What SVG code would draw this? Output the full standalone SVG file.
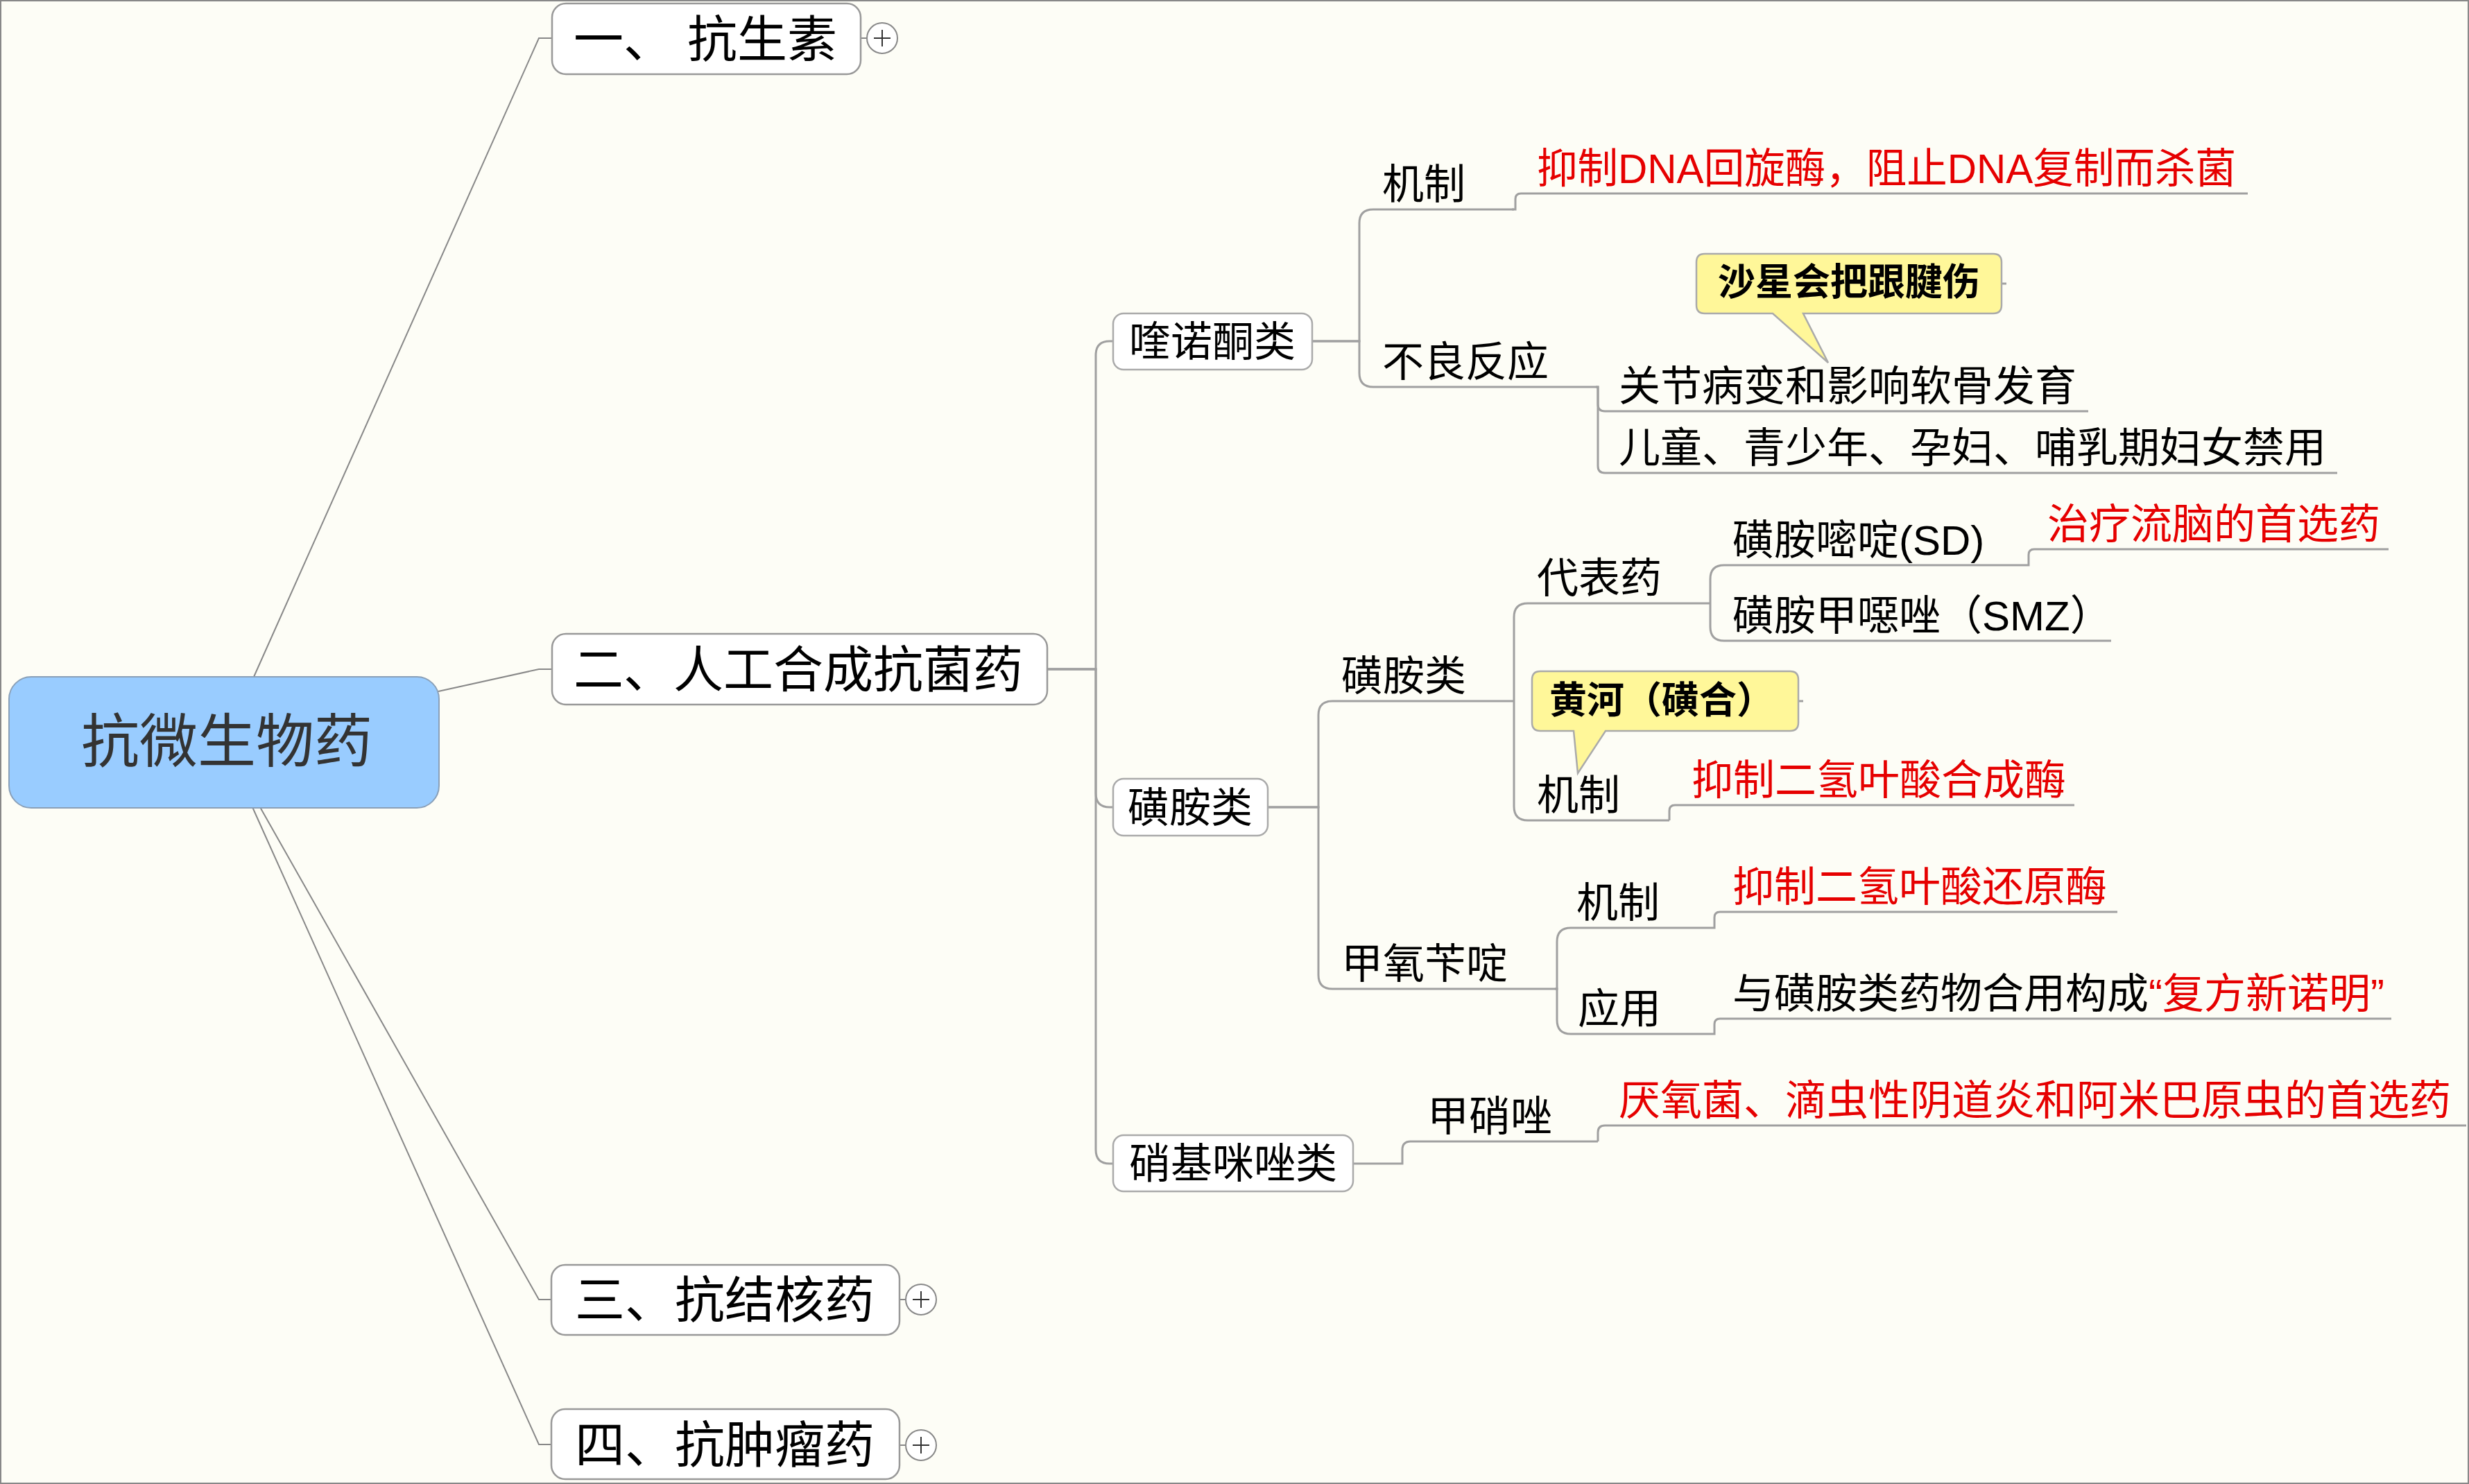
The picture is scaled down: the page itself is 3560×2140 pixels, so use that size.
<svg xmlns="http://www.w3.org/2000/svg" width="3560" height="2140" viewBox="0 0 3560 2140">
<style>
text{font-family:"Liberation Sans","Noto Sans CJK SC",sans-serif;fill:#000}
.t72{font-size:72px}
.t60{font-size:60px}
.red{fill:#E60000}
.bold{font-size:54px;font-weight:bold}
.l1{fill:#FFFFFF;stroke:#999;stroke-width:2.5}
.l2{fill:#FFFFFF;stroke:#aaa;stroke-width:2.5}
.call{fill:#FFF799;stroke:#aaa;stroke-width:2.5}
.conn path{fill:none;stroke:#a0a0a0;stroke-width:3}
.conn path.root{stroke:#888;stroke-width:2}
.plus circle{fill:#FFFFFF;stroke:#888;stroke-width:2}
.plus path{fill:none;stroke:#333;stroke-width:2}
</style>
<rect x="0" y="0" width="3560" height="2140" fill="#FDFDF6"/>
<rect x="1" y="1" width="3558" height="2138" fill="none" stroke="#888" stroke-width="2"/>

<g id="connectors" class="conn">
  <path class="root" d="M366 976 L777 55 H796"/>
  <path class="root" d="M632 997 L777 965 H796"/>
  <path class="root" d="M375 1164 L777 1874 H795"/>
  <path class="root" d="M364 1164 L777 2083 H795"/>
  <path class="root" d="M1241 55 H1250"/>
  <path class="root" d="M1297 1874 H1306"/>
  <path class="root" d="M1297 2084 H1306"/>
  <!-- level 2 -->
  <path d="M1510 965 H1580 V512 Q1580 492 1600 492 H1605"/>
  <path d="M1510 965 H1580 V1144 Q1580 1164 1600 1164 H1605"/>
  <path d="M1510 965 H1580 V1658 Q1580 1678 1600 1678 H1605"/>
  <!-- 喹诺酮类 -->
  <path d="M1892 492 H1960 V322 Q1960 302 1980 302 H2183"/>
  <path d="M1892 492 H1960 V538 Q1960 558 1980 558 H2301"/>
  <path d="M2180 302 H2185 V287 Q2185 279 2193 279 H3241"/>
  <path d="M2301 558 H2304 V583 Q2304 593 2314 593 H3011"/>
  <path d="M2301 558 H2304 V672 Q2304 682 2314 682 H3370"/>
  <!-- 磺胺类 -->
  <path d="M1828 1164 H1901 V1031 Q1901 1011 1921 1011 H2183"/>
  <path d="M1828 1164 H1901 V1406 Q1901 1426 1921 1426 H2242"/>
  <path d="M2183 1011 V890 Q2183 870 2203 870 H2466"/>
  <path d="M2183 1011 V1163 Q2183 1183 2203 1183 H2407"/>
  <path d="M2466 870 V835 Q2466 815 2486 815 H2919"/>
  <path d="M2466 870 V904 Q2466 924 2486 924 H3044"/>
  <path d="M2919 815 H2925 V800 Q2925 792 2933 792 H3444"/>
  <path d="M2407 1183 V1169 Q2407 1161 2415 1161 H2991"/>
  <path d="M2242 1426 H2245 V1358 Q2245 1338 2265 1338 H2468"/>
  <path d="M2242 1426 H2245 V1471 Q2245 1491 2265 1491 H2468"/>
  <path d="M2468 1338 H2472 V1323 Q2472 1315 2480 1315 H3053"/>
  <path d="M2468 1491 H2472 V1477 Q2472 1469 2480 1469 H3448"/>
  <!-- 硝基咪唑类 -->
  <path d="M1951 1678 H2022 V1658 Q2022 1646 2034 1646 H2304"/>
  <path d="M2304 1646 V1633 Q2304 1623 2314 1623 H3556"/>
  <!-- callout stubs -->
  <path d="M2886 409 H2893"/>
  <path d="M2593 1011 H2600"/>
</g>

<g id="root">
  <rect x="13" y="976" width="620" height="189" rx="32" fill="#99CCFF" stroke="#8aa0b8" stroke-width="2"/>
  <text x="327" y="1099" text-anchor="middle" style="font-size:84px;fill:#333">抗微生物药</text>
</g>

<g id="n1">
  <rect class="l1" x="796" y="5" width="445" height="102" rx="20"/>
  <text class="t72" x="827" y="82">一、 抗生素</text>
</g>
<g id="n1-plus" class="plus">
  <circle cx="1272" cy="55" r="22"/><path d="M1260 55 H1284 M1272 43 V67"/>
</g>
<g id="n2">
  <rect class="l1" x="796" y="914" width="714" height="102" rx="20"/>
  <text class="t72" x="827" y="991">二、人工合成抗菌药</text>
</g>
<g id="n3">
  <rect class="l1" x="795" y="1824" width="502" height="101" rx="20"/>
  <text class="t72" x="829" y="1900">三、抗结核药</text>
</g>
<g id="n3-plus" class="plus">
  <circle cx="1328" cy="1874" r="22"/><path d="M1316 1874 H1340 M1328 1862 V1886"/>
</g>
<g id="n4">
  <rect class="l1" x="795" y="2032" width="502" height="101" rx="20"/>
  <text class="t72" x="829" y="2109">四、抗肿瘤药</text>
</g>
<g id="n4-plus" class="plus">
  <circle cx="1328" cy="2084" r="22"/><path d="M1316 2084 H1340 M1328 2072 V2096"/>
</g>

<g id="quinolone">
  <rect class="l2" x="1605" y="452" width="287" height="81" rx="15"/>
  <text class="t60" x="1748" y="514" text-anchor="middle">喹诺酮类</text>
</g>
<g id="q-mech"><text class="t60" x="1993" y="287">机制</text></g>
<g id="q-mech-d"><text class="t60 red" x="2216" y="264" textLength="1008" lengthAdjust="spacingAndGlyphs">抑制DNA回旋酶，阻止DNA复制而杀菌</text></g>
<g id="q-adv"><text class="t60" x="1993" y="543">不良反应</text></g>
<g id="q-adv-1"><text class="t60" x="2334" y="578">关节病变和影响软骨发育</text></g>
<g id="q-adv-2"><text class="t60" x="2334" y="667">儿童、青少年、孕妇、哺乳期妇女禁用</text></g>
<g id="callout-1">
  <path class="call" d="M2458 366 H2874 Q2886 366 2886 378 V440 Q2886 452 2874 452 H2600 L2636 523 L2556 452 H2458 Q2446 452 2446 440 V378 Q2446 366 2458 366 Z"/>
  <text class="bold" x="2666" y="426" text-anchor="middle">沙星会把跟腱伤</text>
</g>

<g id="sulfa">
  <rect class="l2" x="1605" y="1123" width="223" height="82" rx="15"/>
  <text class="t60" x="1716" y="1186" text-anchor="middle">磺胺类</text>
</g>
<g id="s-sulfa"><text class="t60" x="1934" y="996">磺胺类</text></g>
<g id="s-rep"><text class="t60" x="2216" y="855">代表药</text></g>
<g id="s-sd"><text class="t60" x="2498" y="800">磺胺嘧啶(SD)</text></g>
<g id="s-sd-d"><text class="t60 red" x="2952" y="777">治疗流脑的首选药</text></g>
<g id="s-smz"><text class="t60" x="2498" y="909">磺胺甲噁唑（SMZ）</text></g>
<g id="callout-2">
  <path class="call" d="M2221 968 H2581 Q2593 968 2593 980 V1042 Q2593 1054 2581 1054 H2315 L2275 1115 L2269 1054 H2221 Q2209 1054 2209 1042 V980 Q2209 968 2221 968 Z"/>
  <text class="bold" x="2396" y="1029" text-anchor="middle">黄河（磺合）</text>
</g>
<g id="s-mech"><text class="t60" x="2216" y="1168">机制</text></g>
<g id="s-mech-d"><text class="t60 red" x="2439" y="1146">抑制二氢叶酸合成酶</text></g>
<g id="tmp"><text class="t60" x="1934" y="1411">甲氧苄啶</text></g>
<g id="tmp-mech"><text class="t60" x="2273" y="1323">机制</text></g>
<g id="tmp-mech-d"><text class="t60 red" x="2498" y="1300">抑制二氢叶酸还原酶</text></g>
<g id="tmp-use"><text class="t60" x="2275" y="1476">应用</text></g>
<g id="tmp-use-d"><text class="t60" x="2498" y="1454">与磺胺类药物合用构成<tspan class="red">“复方新诺明”</tspan></text></g>

<g id="nitro">
  <rect class="l2" x="1605" y="1637" width="346" height="81" rx="15"/>
  <text class="t60" x="1778" y="1699" text-anchor="middle">硝基咪唑类</text>
</g>
<g id="metro"><text class="t60" x="2058" y="1631">甲硝唑</text></g>
<g id="metro-d"><text class="t60 red" x="2334" y="1608">厌氧菌、滴虫性阴道炎和阿米巴原虫的首选药</text></g>
</svg>
